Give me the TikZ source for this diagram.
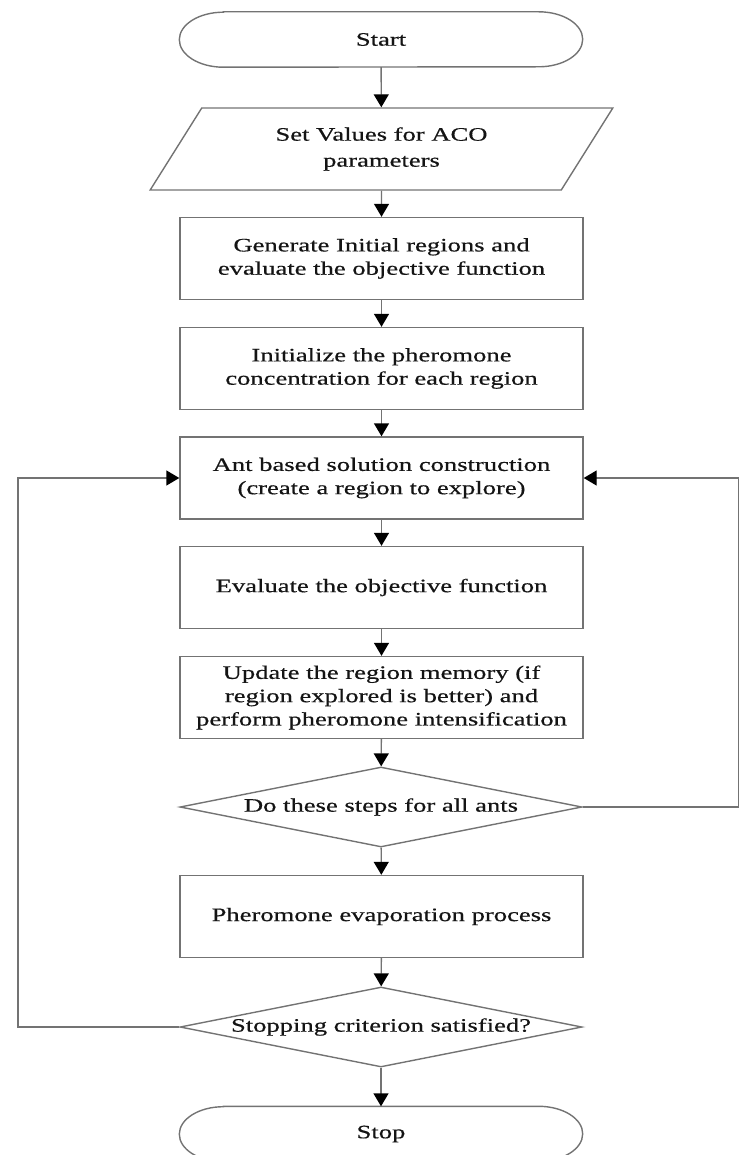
\documentclass[tikz,border=0pt]{standalone}
\usepackage{fontspec}
\setmainfont[FakeStretch=1.4,FakeBold=0.5]{Liberation Serif}
\usetikzlibrary{shapes.geometric,arrows.meta}
\begin{document}
\begin{tikzpicture}[x=1pt,y=-1pt,
  every node/.style={font=\fontsize{19}{23.3}\selectfont, text=black!92, align=center, inner sep=0pt},
  line/.style={draw=black!55, line width=1.4pt},
  box/.style={line, rectangle, minimum width=403pt, minimum height=82pt},
  termshape/.style={rectangle, minimum width=403pt, minimum height=55pt},
  dec/.style={line, diamond, aspect=5, minimum width=402pt, minimum height=80pt},
  io/.style={line, trapezium, trapezium left angle=55, trapezium right angle=125,
     trapezium stretches=true, minimum width=463pt, minimum height=82pt},
  arr/.style={line, -{Triangle[width=15pt,length=13pt,color=black,fill=black]}}
]
\useasboundingbox (0,0) rectangle (739,1155);

\node[termshape] (start) at (381,39.5) {Start};
\draw[line] ([xshift=44pt]start.north west) -- ([xshift=-44pt]start.north east)
  arc[start angle=90,end angle=-90,x radius=44pt,y radius=27.5pt]
  -- ([xshift=44pt]start.south west)
  arc[start angle=270,end angle=90,x radius=44pt,y radius=27.5pt] -- cycle;

\node[io, font=\fontsize{19}{26}\selectfont] (par) at (381.5,149) {Set Values for ACO\\parameters};
\node[box] (gen) at (381.5,258.5) {Generate Initial regions and\\evaluate the objective function};
\node[box] (init) at (381.5,368.5) {Initialize the pheromone\\concentration for each region};
\node[box] (ant) at (381.5,478) {Ant based solution construction\\(create a region to explore)};
\node[box] (eval) at (381.5,587.5) {Evaluate the objective function};
\node[box] (upd) at (381.5,697.5) {Update the region memory (if\\region explored is better) and\\perform pheromone intensification};
\node[dec] (d1) at (381,807) {};
\node (d1t) at (d1.center) {Do these steps for all ants};
\node[box] (evap) at (381.5,916.5) {Pheromone evaporation process};
\node[dec] (d2) at (381,1027) {};
\node (d2t) at (d2.center) {Stopping criterion satisfied?};

\node[termshape] (stop) at (381,1134) {Stop};
\draw[line] ([xshift=44pt]stop.north west) -- ([xshift=-44pt]stop.north east)
  arc[start angle=90,end angle=-90,x radius=44pt,y radius=27.5pt]
  -- ([xshift=44pt]stop.south west)
  arc[start angle=270,end angle=90,x radius=44pt,y radius=27.5pt] -- cycle;

\draw[arr] (start) -- (par);
\draw[arr] (par) -- (gen);
\draw[arr] (gen) -- (init);
\draw[arr] (init) -- (ant);
\draw[arr] (ant) -- (eval);
\draw[arr] (eval) -- (upd);
\draw[arr] (upd) -- (d1);
\draw[arr] (d1) -- (evap);
\draw[arr] (evap) -- (d2);
\draw[arr] (d2) -- (stop);

\coordinate (rr) at (738.3,807);
\coordinate (ll) at (18,1027);
\draw[arr] (d1.east) -- (rr) |- (ant.east);
\draw[arr] (d2.west) -- (ll) |- (ant.west);
\end{tikzpicture}
\end{document}
